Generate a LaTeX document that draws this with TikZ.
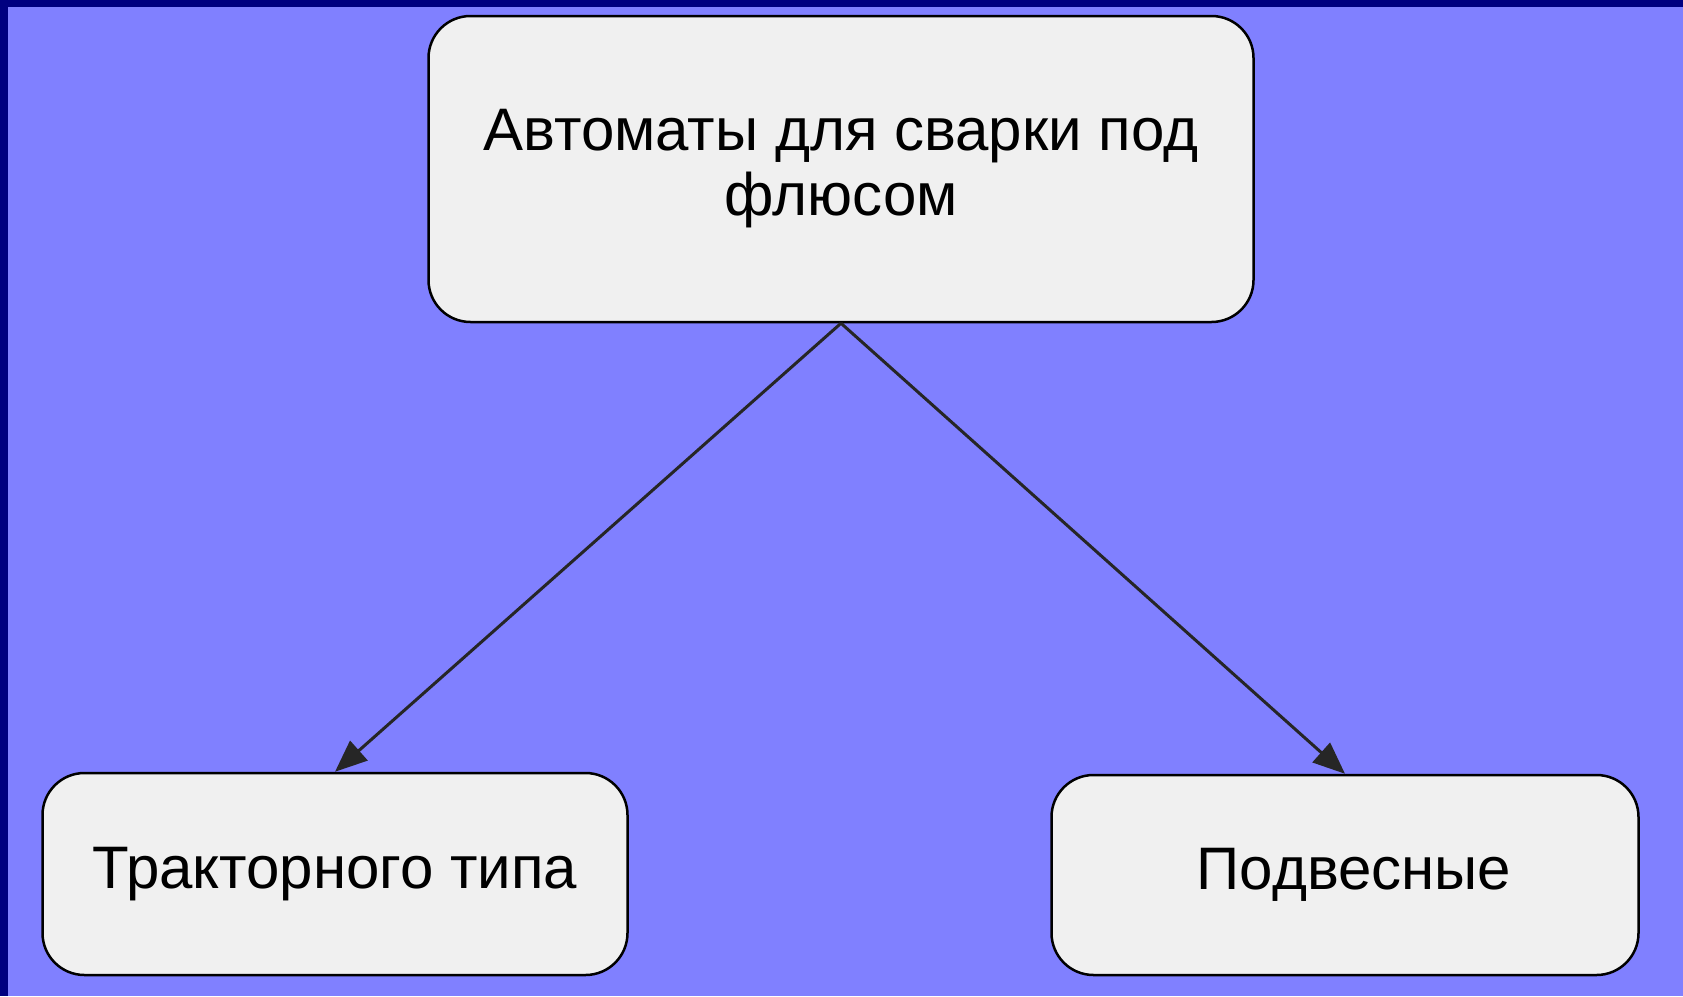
\documentclass[tikz,border=0pt]{standalone}
\usepackage{fontspec}
\setmainfont{Liberation Sans}
\usetikzlibrary{arrows.meta}
\definecolor{fonblue}{HTML}{8080FF}
\definecolor{ramka}{HTML}{000080}
\definecolor{boxgray}{HTML}{F0F0F0}
\begin{document}
\begin{tikzpicture}[x=1pt,y=-1pt,
	blok/.style={draw=black, line width=2.5pt, fill=boxgray, rounded corners=42pt,
		inner sep=0pt, align=center, font=\fontsize{60}{65}\selectfont},
	strelka/.style={draw=black!85, line width=3pt, -{Triangle[length=32pt,width=26pt]}}]
	% background
	\fill[fonblue] (0,0) rectangle (1683,996);
	\fill[ramka] (0,0) rectangle (8,996);
	\fill[ramka] (0,0) rectangle (1683,7);
	\useasboundingbox (0,0) rectangle (1683,996);
	% boxes
	\node[blok, minimum width=825pt, minimum height=306pt] (avtomaty) at (841,169)
		{Автоматы для сварки под\\флюсом};
	\node[blok, minimum width=585pt, minimum height=202pt] (traktor) at (335,874)
		{Тракторного типа};
	\node[blok, minimum width=587pt, minimum height=200pt] (podves) at (1345,875)
		{\hspace*{18pt}Подвесные};
	% arrows
	\draw[strelka] (avtomaty.south) -- (traktor.north);
	\draw[strelka] (avtomaty.south) -- (podves.north);
\end{tikzpicture}
\end{document}
